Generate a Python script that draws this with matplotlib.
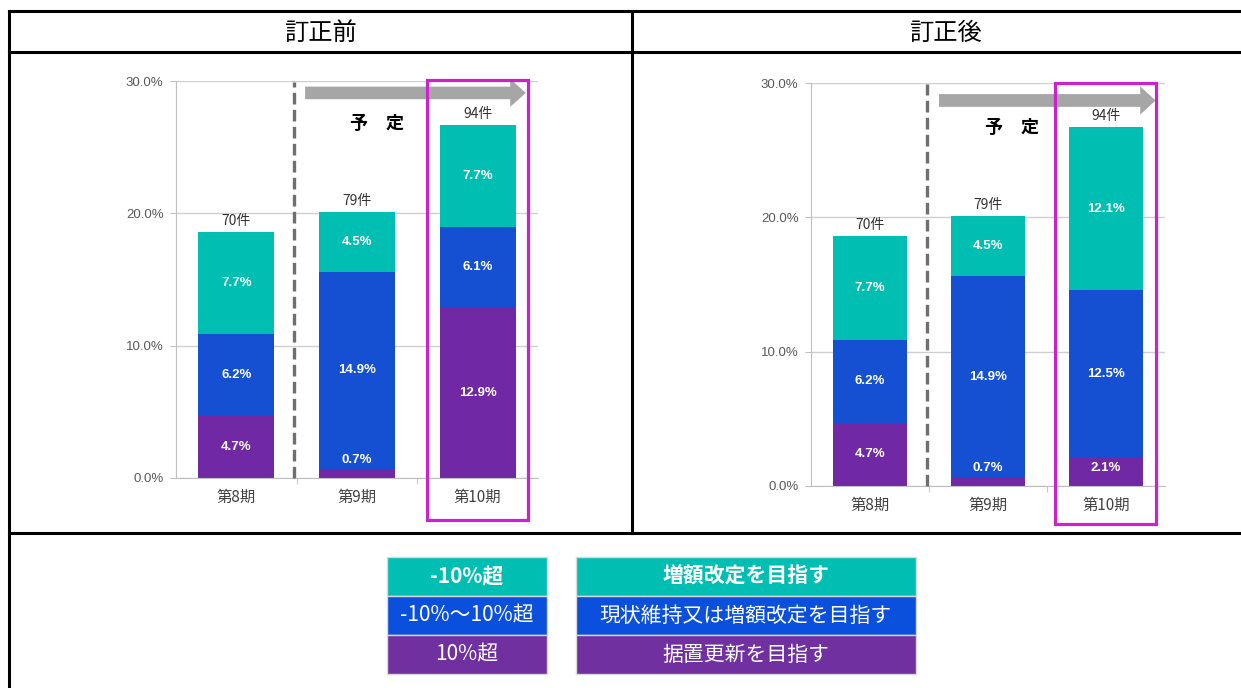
import matplotlib
matplotlib.use("Agg")
import matplotlib.pyplot as plt
from matplotlib.patches import Rectangle, FancyArrow
from matplotlib.lines import Line2D

plt.rcParams['font.family'] = ['Noto Sans CJK JP', 'DejaVu Sans']

# data
periods = ["第8期", "第9期", "第10期"]
counts = ["70件", "79件", "94件"]
series_names = ["10%超", "-10%〜10%超", "-10%超"]  # bottom -> top
before = {
    "purple": [4.7, 0.7, 12.9],
    "blue": [6.2, 14.9, 6.1],
    "teal": [7.7, 4.5, 7.7],
}
after = {
    "purple": [4.7, 0.7, 2.1],
    "blue": [6.2, 14.9, 12.5],
    "teal": [7.7, 4.5, 12.1],
}
headers = ["訂正前", "訂正後"]
legend_left = ["-10%超", "-10%〜10%超", "10%超"]
legend_right = ["増額改定を目指す", "現状維持又は増額改定を目指す", "据置更新を目指す"]

colors = {"teal": "#00BFB2", "blue": "#1550D2", "purple": "#7028A4"}
legend_colors = ["#00BFB2", "#0A50DC", "#7030A0"]
magenta = "#CC22CC"

W, H = 1241, 688
fig = plt.figure(figsize=(W / 100, H / 100), dpi=100)


def fx(x):
    return x / W


def fy(y):
    return 1 - y / H


def hline(x0, x1, y, lw=2.2, color="black"):
    fig.add_artist(Line2D([fx(x0), fx(x1)], [fy(y), fy(y)], color=color, lw=lw,
                          transform=fig.transFigure))


def vline(x, y0, y1, lw=2.2, color="black"):
    fig.add_artist(Line2D([fx(x), fx(x)], [fy(y0), fy(y1)], color=color, lw=lw,
                          transform=fig.transFigure))


# table frame
hline(9, W, 11)
hline(9, W, 52)
hline(9, W, 533)
vline(9, 11, H)
vline(632, 11, 533)

fig.text(fx(320), fy(33), headers[0], ha="center", va="center", fontsize=17.5)
fig.text(fx(945), fy(33), headers[1], ha="center", va="center", fontsize=17.5)


def draw_chart(rect, data, arrow_y, arrow_x0, arrow_x1, yotei_xy, box):
    ax = fig.add_axes(rect)
    x = range(len(periods))
    bottom = [0.0] * len(periods)
    for key in ["purple", "blue", "teal"]:
        vals = data[key]
        ax.bar(x, vals, width=0.63, bottom=bottom, color=colors[key], zorder=2)
        for i, v in enumerate(vals):
            ypos = bottom[i] + max(v / 2, 1.35)
            ax.text(i, ypos, f"{v:.1f}%", ha="center", va="center", color="white",
                    fontsize=9.5, fontweight="bold", zorder=3,
                    family=["Liberation Sans", "DejaVu Sans"])
        bottom = [b + v for b, v in zip(bottom, vals)]
    for i, tot in enumerate(bottom):
        ax.text(i, tot + 0.3, counts[i], ha="center", va="bottom", fontsize=10,
                color="#333333", zorder=3)

    ax.set_xlim(-0.5, 2.5)
    ax.set_ylim(0, 30)
    ax.set_yticks([0, 10, 20, 30])
    ax.set_yticklabels([f"{t:.1f}%" for t in [0, 10, 20, 30]], fontsize=9.5,
                       color="#595959", family=["Liberation Sans", "DejaVu Sans"])
    ax.set_xticks(list(x))
    ax.set_xticklabels(periods, fontsize=11, color="#404040")
    ax.tick_params(axis="x", length=0, pad=8)
    ax.set_xticks([0.5, 1.5], minor=True)
    ax.tick_params(axis="x", which="minor", length=4, color="#bfbfbf")
    ax.tick_params(axis="y", length=4, color="#bfbfbf", pad=5)
    ax.grid(axis="y", color="#cfcfcf", lw=1, zorder=0)
    for s in ["top", "right"]:
        ax.spines[s].set_visible(False)
    for s in ["left", "bottom"]:
        ax.spines[s].set_color("#bfbfbf")

    ax.plot([0.48, 0.48], [0, 29.9], ls=(0, (3.5, 1.6)), color="#6f6f6f", lw=2.4,
            zorder=4, clip_on=False)
    ax.add_patch(FancyArrow(arrow_x0, arrow_y, arrow_x1 - arrow_x0, 0, width=0.95,
                            head_width=2.1, head_length=0.13, length_includes_head=True,
                            color="#a6a6a6", lw=0, zorder=4, clip_on=False))
    ax.text(yotei_xy[0], yotei_xy[1], "予　定", ha="center", va="center", fontsize=13,
            fontweight="bold", color="black", zorder=5)

    x0, y0, x1, y1 = box
    fig.add_artist(Rectangle((fx(x0), fy(y1)), fx(x1 - x0), (y1 - y0) / H,
                             fill=False, ec=magenta, lw=2.3, transform=fig.transFigure))
    return ax


draw_chart([fx(176), fy(478), fx(362), 397 / H], before, 29.1, 0.57, 2.40,
           (1.165, 26.8), (427, 80, 528, 520))
draw_chart([fx(811), fy(486), fx(354), 403 / H], after, 28.7, 0.585, 2.42,
           (1.20, 26.7), (1055, 83, 1156, 524))

# legend tables
row_tops = [557, 596, 635]
row_h = 39
for i in range(3):
    for (xa, xb, labels) in [(387, 547, legend_left), (576, 916, legend_right)]:
        fig.add_artist(Rectangle((fx(xa), fy(row_tops[i] + row_h)), fx(xb - xa), row_h / H,
                                 fc=legend_colors[i], ec="#d9d9d9", lw=1,
                                 transform=fig.transFigure))
        fig.text(fx((xa + xb) / 2), fy(row_tops[i] + row_h / 2), labels[i],
                 ha="center", va="center", color="white", fontsize=15,
                 fontweight="bold" if i == 0 else "normal")

fig.savefig("out.png", dpi=100)
